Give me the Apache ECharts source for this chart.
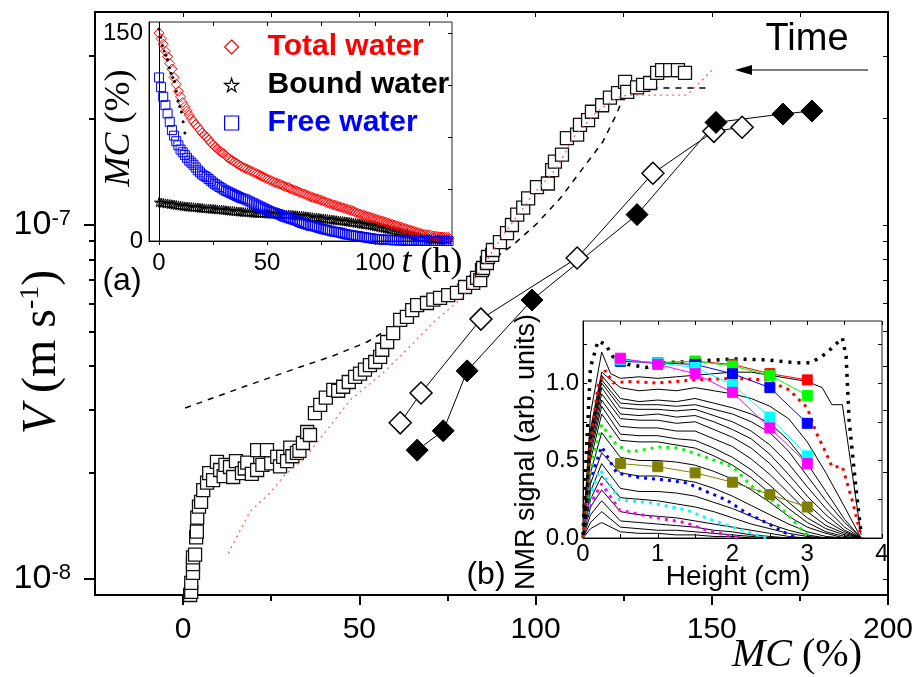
<!DOCTYPE html>
<html><head><meta charset="utf-8">
<script src="https://cdn.jsdelivr.net/npm/echarts@6/dist/echarts.min.js"></script>
<style>html,body{margin:0;padding:0;background:#fff}#c{width:919px;height:677px}</style>
</head><body><div id="c"></div>
<script>
// ---------- Main chart data (MC %, V m/s) ----------
const squares = [[2.0,9.0e-9],[2.3,9.19e-9],[2.3,9.74e-9],[2.8,1.04e-8],[2.8,1.10e-8],[2.8,1.15e-8],[3.4,1.17e-8],[3.7,1.31e-8],[3.9,1.36e-8],[4.0,1.49e-8],[4.5,1.60e-8],[5.1,1.65e-8],[5.7,1.78e-8],[6.8,1.87e-8],[7.4,1.99e-8],[8.5,1.90e-8],[9.6,2.14e-8],[10.5,2.03e-8],[11.5,1.95e-8],[12.0,2.10e-8],[13.3,2.07e-8],[14.2,1.94e-8],[15.0,2.15e-8],[16.7,1.99e-8],[17.5,2.05e-8],[18.2,2.13e-8],[19.5,1.98e-8],[21.0,2.03e-8],[21.0,2.31e-8],[22.5,2.10e-8],[23.8,2.31e-8],[25.0,2.12e-8],[26.7,2.21e-8],[27.5,2.08e-8],[28.4,2.21e-8],[29.5,2.15e-8],[30.4,2.35e-8],[31.0,2.22e-8],[32.3,2.27e-8],[33.0,2.30e-8],[34.0,2.42e-8],[35.2,2.60e-8],[36.0,2.55e-8],[37.4,2.94e-8],[38.9,3.10e-8],[40.5,3.25e-8],[42.6,3.42e-8],[44.0,3.40e-8],[45.4,3.49e-8],[47.0,3.60e-8],[48.8,3.72e-8],[50.2,3.80e-8],[51.6,3.90e-8],[53.0,4.02e-8],[54.5,4.10e-8],[55.9,4.24e-8],[56.5,4.44e-8],[57.9,4.67e-8],[59.6,4.95e-8],[61.6,5.39e-8],[63.5,5.50e-8],[65.0,5.75e-8],[66.4,5.94e-8],[69.2,6.02e-8],[71.0,6.15e-8],[72.9,6.22e-8],[75.2,6.34e-8],[77.7,6.43e-8],[80.0,6.68e-8],[82.3,6.86e-8],[83.4,7.09e-8],[84.3,6.99e-8],[84.8,7.46e-8],[85.1,7.56e-8],[86.2,7.81e-8],[86.5,8.12e-8],[87.7,8.23e-8],[87.9,8.50e-8],[89.9,8.95e-8],[91.9,9.49e-8],[93.3,1.00e-7],[94.8,1.07e-7],[96.5,1.12e-7],[97.9,1.19e-7],[100.4,1.28e-7],[103.5,1.31e-7],[104.7,1.43e-7],[105.5,1.51e-7],[107.5,1.58e-7],[108.9,1.76e-7],[111.8,1.80e-7],[112.6,1.92e-7],[114.9,1.98e-7],[116.0,2.09e-7],[118.9,2.18e-7],[121.1,2.29e-7],[123.4,2.36e-7],[125.4,2.54e-7],[126.0,2.38e-7],[128.8,2.45e-7],[130.5,2.49e-7],[132.5,2.52e-7],[134.5,2.69e-7],[135.9,2.74e-7],[138.2,2.74e-7],[140.4,2.74e-7],[142.4,2.69e-7]];
const dashedModel = [[0.6,3.04e-8],[16.2,3.46e-8],[33.2,3.97e-8],[42.6,4.27e-8],[52.2,4.67e-8],[58.7,5.12e-8],[75.7,6.55e-8],[85.7,7.71e-8],[93.6,8.78e-8],[100.4,1.01e-7],[107.0,1.19e-7],[113.5,1.45e-7],[119.1,1.72e-7],[123.1,2.07e-7],[124.8,2.29e-7],[126.8,2.44e-7],[149.5,2.44e-7]];
const redFit = [[12.8,1.18e-8],[19.0,1.55e-8],[24.7,1.75e-8],[28.9,1.97e-8],[34.0,2.17e-8],[39.7,2.55e-8],[47.4,3.20e-8],[56.7,3.82e-8],[63.5,4.44e-8],[70.9,5.29e-8],[79.4,6.26e-8],[90.8,9.37e-8],[99.3,1.22e-7],[106.1,1.45e-7],[110.6,1.76e-7],[117.4,2.09e-7],[123.1,2.29e-7],[126.0,2.33e-7],[143.0,2.33e-7],[150.1,2.74e-7]];
const openDiamonds = [[61.6,2.76e-8],[67.5,3.35e-8],[84.5,5.42e-8],[111.8,8.07e-8],[133.3,1.40e-7],[150.6,1.84e-7],[158.6,1.89e-7]];
const filledDiamonds = [[66.4,2.31e-8],[73.8,2.62e-8],[80.6,3.87e-8],[99.0,6.14e-8],[128.8,1.07e-7],[151.2,1.95e-7],[170.2,2.06e-7],[178.4,2.10e-7]];
const mainXMajor = [0,50,100,150,200];
const mainXMinor = [25,75,125,175];
const mainXTop = [0,25,50,75,100,125,150,175];
const mainYMajor = [1e-8,1e-7];
const mainYMinor = [2e-8,3e-8,4e-8,5e-8,6e-8,7e-8,8e-8,9e-8,2e-7,3e-7];
const mainYRight = [1e-8,2e-8,3e-8,4e-8,5e-8,6e-8,7e-8,8e-8,9e-8,1e-7,2e-7,3e-7];

// ---------- Inset (a): MC (%) vs t (h) ----------
const tHours = [0,2,4,6,8,10,12,14,16,18,20,22,24,26,28,30,32,34,36,38,40,42,44,46,48,50,52,54,56,58,60,62,64,66,68,70,72,74,76,78,80,82,84,86,88,90,92,94,96,98,100,102,104,106,108,110,112,114,116,118,120,122,124,126,128,130,132,134];
const totalWater = [150,142,133,124,113,104,97,91,86,82,78,75,71,68,65,63,60,58,56,54,52.5,51,49.5,48,46.5,45,43.5,42,41,39.5,38.5,37,36,34.5,33.5,32,31,30,29,27.5,26.5,25.5,24.5,23.5,22.5,21.5,20,19,18,17,16,15,14,13,12,11,10,9,8,7,6,5,4.5,4,3.5,3,2.8,2.5];
const boundWater = [28,27.5,27,26.5,26,25.5,25,24.7,24.4,24.1,23.8,23.5,23.2,23,22.7,22.4,22,21.7,21.4,21.1,20.8,20.5,20.3,20.1,20,19.8,19.6,19.5,19.3,19.1,19,18.8,18.5,18.2,17.8,17.4,17,16.6,16.2,15.8,15.4,15,14.6,14.2,13.8,13.3,12.8,12.3,11.8,11.2,10.6,10,9.3,8.6,7.8,7,6.2,5.4,4.6,3.8,3,2.4,1.9,1.5,1.2,1,1,1];
const freeWater = [118,104,92,80,72,66,62,58,55,51,48,46,43.5,41,39,37,35.5,34,32.5,31,30,28.5,27,25.5,24,22.5,21,20,19,17.5,16.5,15.5,14.5,13,12,11,10.5,9.5,8.5,8,7,6.5,6,5,4.5,4,3.5,3,2.5,2,1.5,1.2,1,0.8,0.6,0.5,0.4,0.3,0.2,0.2,0.1,0.1,0.1,0,0,0,0,0];
const tHoursOdd = [1,3,5,7,9,11,13,15,17,19,21,23,25,27,29,31,33,35,37,39,41,43,45,47,49,51,53,55,57,59,61,63,65,67,69,71,73,75,77,79,81,83,85,87,89,91,93,95,97,99,101,103,105,107,109,111,113,115,117,119,121,123,125,127,129,131,133];
const totalWaterOdd = [146,137,128,118,108,100,94,88,84,80,76.5,73,69.5,66.5,64,61.5,59,57,55,53,51.7,50.2,48.7,47.2,45.7,44.2,42.7,41.5,40.2,39,37.7,36.5,35.2,34,32.7,31.5,30.5,29.5,28.2,27,26,25,24,23,22,20.7,19.5,18.5,17.5,16.5,15.5,14.5,13.5,12.5,11.5,10.5,9.5,8.5,7.5,6.5,5.5,4.7,4.2,3.7,3.2,2.9,2.6];
const boundWaterOdd = [27.7,27.2,26.7,26.2,25.7,25.2,24.8,24.5,24.2,23.9,23.6,23.3,23.1,22.8,22.5,22.2,21.8,21.5,21.2,20.9,20.6,20.4,20.2,20,19.9,19.7,19.5,19.4,19.2,19,18.9,18.6,18.3,18,17.6,17.2,16.8,16.4,16,15.6,15.2,14.8,14.4,14,13.5,13,12.5,12,11.5,10.9,10.3,9.6,8.9,8.2,7.4,6.6,5.8,5,4.2,3.4,2.7,2.1,1.7,1.3,1.1,1,1];
const freeWaterOdd = [111,98,86,76,69,64,60,56.5,53,49.5,47,44.7,42.2,40,38,36.2,34.7,33.2,31.7,30.5,29.2,27.7,26.2,24.7,23.2,21.7,20.5,19.5,18.2,17,16,15,13.7,12.5,11.5,10.7,10,9,8.2,7.5,6.7,6.2,5.5,4.7,4.2,3.7,3.2,2.7,2.2,1.7,1.3,1.1,0.9,0.7,0.5,0.4,0.3,0.2,0.2,0.1,0.1,0.1,0,0,0,0,0];
const earlyDotT = [0,0.8,1.6,2.4,3.2,4,4.8,5.6,6.4,7.2,8,8.8,9.6,10.4,11.2,12];
const earlyDotMC = [153,147,141,137,134,131,125,121,118,115,108,101,97,93,86,78];
const insetAXLabels = [0,50,100];
const insetAXTicks = [0,25,50,75,100,125];
const insetAYLabels = [0,150];
const insetAYRight = [37.5,75,112.5,150];

// ---------- Inset (b): NMR signal vs Height (cm) ----------
const heights = [0,0.1,0.25,0.5,0.75,1,1.25,1.5,1.75,2,2.25,2.5,2.75,3,3.25,3.5,3.72];
const topProfile = [[0,0],[0.1,0.8],[0.25,1.2],[0.37,1.06],[0.5,1.03],[0.75,1.04],[1.0,1.03],[1.25,1.04],[1.5,1.05],[1.75,1.06],[2.0,1.07],[2.25,1.07],[2.5,1.05],[2.75,1.03],[3.0,1.01],[3.2,0.97],[3.33,0.86],[3.47,0.86],[3.72,0.02]];
const blackProfiles = [
 [0,0.70,1.07,0.97,0.95,0.96,0.95,0.97,0.95,0.93,0.90,0.85,0.77,0.62,0.42,0.20,0],
 [0,0.68,1.05,0.90,0.88,0.89,0.88,0.90,0.87,0.84,0.80,0.74,0.63,0.48,0.30,0.12,0],
 [0,0.66,1.02,0.87,0.86,0.86,0.85,0.86,0.83,0.80,0.75,0.68,0.56,0.40,0.24,0.10,0],
 [0,0.64,1.00,0.84,0.83,0.83,0.82,0.83,0.79,0.75,0.69,0.60,0.48,0.33,0.19,0.07,0],
 [0,0.62,0.97,0.80,0.79,0.80,0.78,0.79,0.75,0.70,0.64,0.54,0.41,0.27,0.15,0.05,0],
 [0,0.60,0.93,0.77,0.76,0.76,0.74,0.75,0.70,0.65,0.58,0.48,0.35,0.22,0.11,0.04,0],
 [0,0.57,0.89,0.72,0.71,0.71,0.69,0.69,0.64,0.59,0.51,0.41,0.29,0.17,0.08,0.03,0],
 [0,0.54,0.85,0.67,0.66,0.66,0.64,0.63,0.58,0.52,0.44,0.34,0.23,0.13,0.06,0.02,0],
 [0,0.50,0.80,0.63,0.62,0.62,0.60,0.58,0.53,0.47,0.39,0.29,0.19,0.10,0.04,0.01,0],
 [0,0.42,0.68,0.52,0.50,0.50,0.49,0.47,0.43,0.38,0.31,0.23,0.14,0.07,0.03,0,0],
 [0,0.35,0.55,0.42,0.40,0.40,0.38,0.36,0.32,0.27,0.21,0.15,0.09,0.04,0.01,0,0],
 [0,0.30,0.48,0.32,0.30,0.30,0.29,0.27,0.23,0.19,0.14,0.09,0.05,0.02,0,0,0],
 [0,0.25,0.40,0.26,0.25,0.24,0.22,0.20,0.17,0.13,0.09,0.06,0.03,0.01,0,0,0],
 [0,0.20,0.31,0.17,0.15,0.14,0.13,0.11,0.09,0.07,0.05,0.03,0.01,0,0,0,0],
 [0,0.15,0.24,0.11,0.10,0.09,0.08,0.07,0.05,0.04,0.02,0.01,0,0,0,0,0],
 [0,0.10,0.17,0.07,0.06,0.05,0.05,0.04,0.03,0.02,0.01,0,0,0,0,0,0],
 [0,0.06,0.10,0.04,0.03,0.03,0.02,0.02,0.01,0.01,0,0,0,0,0,0,0]
];
const blackDotted = [[0,0.02],[0.05,0.6],[0.1,1.1],[0.2,1.27],[0.3,1.25],[0.4,1.17],[0.6,1.12],[0.85,1.10],[1.1,1.13],[1.5,1.14],[2.0,1.155],[2.45,1.15],[2.85,1.13],[3.05,1.13],[3.25,1.19],[3.47,1.29],[3.52,1.17],[3.56,0.76],[3.65,0.33],[3.72,0.03]];
const redDotted = [[0,0],[0.1,0.6],[0.2,0.98],[0.3,1.08],[0.4,1.0],[0.6,1.01],[1.0,1.0],[1.5,1.02],[2.0,1.03],[2.45,1.02],[2.76,0.955],[3.0,0.84],[3.12,0.68],[3.25,0.55],[3.33,0.46],[3.47,0.46],[3.6,0.245],[3.69,0.07],[3.73,0]];
const greenDotted = [[0,0],[0.1,0.45],[0.25,0.73],[0.45,0.6],[0.63,0.555],[1.03,0.587],[1.29,0.58],[1.65,0.52],[2.0,0.46],[2.27,0.33],[2.53,0.245],[2.72,0.16],[2.93,0.05],[3.05,0]];
const blueDotted = [[0,0],[0.1,0.38],[0.25,0.59],[0.45,0.42],[0.76,0.39],[1.12,0.374],[1.39,0.355],[1.65,0.3],[1.92,0.245],[2.19,0.16],[2.45,0.1],[2.72,0.03],[2.85,0]];
const cyanDotted = [[0,0],[0.1,0.28],[0.23,0.44],[0.49,0.245],[0.93,0.225],[1.39,0.18],[1.65,0.13],[2.0,0.07],[2.27,0.03],[2.45,0]];
const magentaDotted = [[0,0],[0.1,0.22],[0.25,0.35],[0.49,0.18],[0.93,0.135],[1.39,0.097],[1.65,0.05],[1.92,0.02],[2.1,0]];
const squareHeights = [0.5,1,1.5,2,2.5,3];
const redSq = [1.15,1.13,1.14,1.12,1.06,1.02];
const greenSq = [1.15,1.13,1.14,1.11,1.05,0.92];
const blueSq = [1.14,1.13,1.12,1.06,0.97,0.74];
const cyanSq = [1.15,1.13,1.10,0.99,0.78,0.53];
const magentaSq = [1.16,1.12,1.06,0.94,0.71,0.48];
const oliveSq = [0.48,0.46,0.42,0.36,0.28,0.20];
const insetBXLabels = [0,1,2,3,4];
const insetBXTicks = [0,0.5,1,1.5,2,2.5,3,3.5,4];
const insetBYLabels = [0,0.5,1.0];
const insetBYTicks = [0,0.25,0.5,0.75,1.0,1.25];

// ---------- build ----------
const SANS = 'Liberation Sans', SERIF = 'Liberation Serif';
const chart = echarts.init(document.getElementById('c'), null, {renderer: 'canvas'});
const noSplit = {show: false};
function ax(o) {
  return Object.assign({type: 'value', splitLine: noSplit, minorTick: {show: false}, minorSplitLine: {show: false}}, o);
}
const pair = (xs, ys) => xs.map((x, i) => [x, ys[i]]);
const open = c => ({color: 'rgba(255,255,255,0)', borderColor: c, borderWidth: 1, opacity: 1});
const starPath = 'path://M50,0 L61,35 L98,35 L68,57 L79,91 L50,70 L21,91 L32,57 L2,35 L39,35 Z';

const xAxis = [
  ax({gridIndex: 0, min: -25, max: 200, position: 'bottom',
      axisLine: {show: true, onZero: false, lineStyle: {color: '#000', width: 2}},
      axisTick: {show: true, length: 10, customValues: mainXMajor, lineStyle: {color: '#000', width: 2}},
      axisLabel: {show: true, customValues: mainXMajor, margin: 20, color: '#000', fontSize: 30, fontFamily: SANS}}),
  ax({gridIndex: 0, min: -25, max: 200, position: 'bottom',
      axisLine: {show: false, onZero: false},
      axisTick: {show: true, length: 6, customValues: mainXMinor, lineStyle: {color: '#000', width: 2}},
      axisLabel: {show: false}}),
  ax({gridIndex: 0, min: -25, max: 200, position: 'top',
      axisLine: {show: false, onZero: false},
      axisTick: {show: true, inside: true, length: 5, customValues: mainXTop, lineStyle: {color: '#000', width: 1}},
      axisLabel: {show: false}}),
  ax({gridIndex: 1, min: -4.6, max: 135.6, position: 'bottom',
      axisLine: {show: true, onZero: false, lineStyle: {color: '#000', width: 1}},
      axisTick: {show: true, length: 4, customValues: insetAXTicks, lineStyle: {color: '#000', width: 1}},
      axisLabel: {show: true, customValues: insetAXLabels, margin: 10, color: '#000', fontSize: 24, fontFamily: SANS}}),
  ax({gridIndex: 1, min: -4.6, max: 135.6, position: 'top',
      axisLine: {show: false, onZero: false},
      axisTick: {show: true, inside: true, length: 4, customValues: insetAXTicks, lineStyle: {color: '#000', width: 1}},
      axisLabel: {show: false}}),
  ax({gridIndex: 2, min: 0, max: 4, position: 'bottom',
      axisLine: {show: true, onZero: false, lineStyle: {color: '#000', width: 1}},
      axisTick: {show: true, inside: true, length: 4, customValues: insetBXTicks, lineStyle: {color: '#000', width: 1}},
      axisLabel: {show: true, customValues: insetBXLabels, margin: 4, color: '#000', fontSize: 24, fontFamily: SANS}}),
  ax({gridIndex: 2, min: 0, max: 4, position: 'top',
      axisLine: {show: false, onZero: false},
      axisTick: {show: true, inside: true, length: 4, customValues: insetBXTicks, lineStyle: {color: '#000', width: 1}},
      axisLabel: {show: false}})
];
const yAxis = [
  ax({gridIndex: 0, type: 'log', logBase: 10, min: 9e-9, max: 4e-7, position: 'left',
      axisLine: {show: true, onZero: false, lineStyle: {color: '#000', width: 2}},
      axisTick: {show: true, length: 11, customValues: mainYMajor, lineStyle: {color: '#000', width: 2}},
      axisLabel: {show: true, customValues: mainYMajor, margin: 24, color: '#000',
        formatter: v => '{b|10}{s|' + Math.round(Math.log10(v)) + '}',
        rich: {b: {fontSize: 34, fontFamily: SANS, color: '#000', lineHeight: 34},
               s: {fontSize: 22, fontFamily: SANS, color: '#000', lineHeight: 22, verticalAlign: 'top'}}}}),
  ax({gridIndex: 0, type: 'log', logBase: 10, min: 9e-9, max: 4e-7, position: 'left',
      axisLine: {show: false, onZero: false},
      axisTick: {show: true, length: 6, customValues: mainYMinor, lineStyle: {color: '#000', width: 2}},
      axisLabel: {show: false}}),
  ax({gridIndex: 0, type: 'log', logBase: 10, min: 9e-9, max: 4e-7, position: 'right',
      axisLine: {show: false, onZero: false},
      axisTick: {show: true, inside: true, length: 5, customValues: mainYRight, lineStyle: {color: '#000', width: 1}},
      axisLabel: {show: false}}),
  ax({gridIndex: 1, min: 0, max: 158, position: 'left',
      axisLine: {show: true, onZero: false, lineStyle: {color: '#000', width: 1}},
      axisTick: {show: false},
      axisLabel: {show: true, customValues: insetAYLabels, margin: 6, color: '#000', fontSize: 24, fontFamily: SANS}}),
  ax({gridIndex: 1, min: 0, max: 158, position: 'right',
      axisLine: {show: false, onZero: false},
      axisTick: {show: true, inside: true, length: 4, customValues: insetAYRight, lineStyle: {color: '#000', width: 1}},
      axisLabel: {show: false}}),
  ax({gridIndex: 2, min: 0, max: 1.4, position: 'left',
      axisLine: {show: true, onZero: false, lineStyle: {color: '#000', width: 1}},
      axisTick: {show: true, inside: true, length: 4, customValues: insetBYTicks, lineStyle: {color: '#000', width: 1}},
      axisLabel: {show: true, customValues: insetBYLabels, margin: 4, color: '#000', fontSize: 24, fontFamily: SANS,
        formatter: v => v.toFixed(1)}}),
  ax({gridIndex: 2, min: 0, max: 1.4, position: 'right',
      axisLine: {show: false, onZero: false},
      axisTick: {show: true, inside: true, length: 4, customValues: insetBYTicks, lineStyle: {color: '#000', width: 1}},
      axisLabel: {show: false}})
];

const series = [];
series.push({type: 'line', name: 'model', xAxisIndex: 0, yAxisIndex: 0, data: dashedModel, showSymbol: false, symbol: 'none',
  lineStyle: {color: '#000', width: 1.5, type: [6, 6]}, z: 2});
series.push({type: 'scatter', name: 'V', xAxisIndex: 0, yAxisIndex: 0, data: squares, symbol: 'rect', symbolSize: 13,
  itemStyle: {color: '#fff', borderColor: '#111', borderWidth: 1.3, opacity: 1}, z: 3, clip: false});
series.push({type: 'line', name: 'fit', xAxisIndex: 0, yAxisIndex: 0, data: redFit, showSymbol: false, symbol: 'none',
  lineStyle: {color: '#ff6060', width: 1.3, type: [2, 4]}, z: 4});
series.push({type: 'line', name: 'open', xAxisIndex: 0, yAxisIndex: 0, data: openDiamonds, symbol: 'diamond', symbolSize: 22, showSymbol: true,
  lineStyle: {color: '#000', width: 1}, itemStyle: {color: '#fff', borderColor: '#000', borderWidth: 1.5}, z: 5});
series.push({type: 'line', name: 'filled', xAxisIndex: 0, yAxisIndex: 0, data: filledDiamonds, symbol: 'diamond', symbolSize: 22, showSymbol: true,
  lineStyle: {color: '#000', width: 1}, itemStyle: {color: '#000', borderColor: '#000', borderWidth: 1}, z: 5});
series.push({type: 'scatter', name: 'Bound water', xAxisIndex: 3, yAxisIndex: 3,
  data: pair(tHours, boundWater).concat(pair(tHoursOdd, boundWaterOdd)), symbol: starPath, symbolSize: 9,
  itemStyle: open('#000'), z: 6});
series.push({type: 'scatter', name: 'Total water', xAxisIndex: 3, yAxisIndex: 3,
  data: pair(tHours, totalWater).concat(pair(tHoursOdd, totalWaterOdd)), symbol: 'diamond', symbolSize: 10,
  itemStyle: open('#ff0000'), z: 6,
  markLine: {silent: true, symbol: ['none', 'none'], label: {show: false}, animation: false,
    lineStyle: {color: '#000', width: 1, type: 'solid'}, data: [{xAxis: 0}]}});
series.push({type: 'scatter', name: 'Free water', xAxisIndex: 3, yAxisIndex: 3,
  data: pair(tHours, freeWater).concat(pair(tHoursOdd, freeWaterOdd)), symbol: 'rect', symbolSize: 9,
  itemStyle: open('#0000ff'), z: 6});
series.push({type: 'scatter', name: 'early', xAxisIndex: 3, yAxisIndex: 3, data: pair(earlyDotT, earlyDotMC), symbol: 'circle', symbolSize: 3,
  itemStyle: {color: '#000', opacity: 1}, z: 7});
const bLine = (data, color, width, type, z) => ({type: 'line', xAxisIndex: 5, yAxisIndex: 5, data, showSymbol: false, symbol: 'none',
  lineStyle: {color, width, type}, z: z || 6});
series.push(bLine(topProfile, '#000', 1, 'solid'));
blackProfiles.forEach(p => series.push(bLine(pair(heights, p), '#000', 1, 'solid')));
series.push(bLine(magentaDotted, '#ff00ff', 3, [3, 5], 7));
series.push(bLine(cyanDotted, '#00ffff', 3, [3, 5], 7));
series.push(bLine(blueDotted, '#0000ff', 3, [3, 5], 7));
series.push(bLine(greenDotted, '#00ff00', 3, [3, 5], 7));
series.push(bLine(redDotted, '#ff0000', 3, [3, 5], 7));
series.push(bLine(blackDotted, '#000', 3.5, [3, 6], 7));
const sqLine = (vals, color) => ({type: 'line', xAxisIndex: 5, yAxisIndex: 5, data: pair(squareHeights, vals), symbol: 'rect', symbolSize: 10,
  showSymbol: true, lineStyle: {color, width: 1}, itemStyle: {color, borderColor: color, borderWidth: 1}, z: 8});
series.push(sqLine(oliveSq, '#808000'));
series.push(sqLine(redSq, '#ff0000'));
series.push(sqLine(greenSq, '#00ff00'));
series.push(sqLine(blueSq, '#0000ff'));
series.push(sqLine(cyanSq, '#00ffff'));
series.push(sqLine(magentaSq, '#ff00ff'));

const txt = (o) => Object.assign({type: 'text', z: 100, silent: true}, o);
const C = {align: 'center', verticalAlign: 'middle', textAlign: 'center', textVerticalAlign: 'middle', fill: '#000'};
const graphic = [
  txt({x: 807, y: 40, style: Object.assign({text: 'Time', fontSize: 38, fontFamily: SANS}, C)}),
  {type: 'line', z: 100, silent: true, shape: {x1: 868, y1: 70, x2: 748, y2: 70}, style: {stroke: '#000', lineWidth: 1.2}},
  {type: 'polygon', z: 100, silent: true, shape: {points: [[735, 70], [752, 65], [752, 75]]}, style: {fill: '#000'}},
  txt({x: 122, y: 281, style: Object.assign({text: '(a)', fontSize: 32, fontFamily: SANS}, C)}),
  txt({x: 486, y: 575, style: Object.assign({text: '(b)', fontSize: 32, fontFamily: SANS}, C)}),
  txt({x: 42, y: 352, rotation: Math.PI / 2, style: Object.assign({text: '{i|V}{n| (m s}{s|-1}{n|)}',
    rich: {i: {fontSize: 48, fontFamily: SERIF, fontStyle: 'italic', fill: '#000', lineHeight: 50},
           n: {fontSize: 48, fontFamily: SERIF, fill: '#000', lineHeight: 50},
           s: {fontSize: 28, fontFamily: SERIF, fill: '#000', lineHeight: 26, verticalAlign: 'top'}}}, C)}),
  txt({x: 797, y: 655, style: Object.assign({text: '{i|MC}{n| (%)}',
    rich: {i: {fontSize: 40, fontFamily: SERIF, fontStyle: 'italic', fill: '#000'}, n: {fontSize: 40, fontFamily: SERIF, fill: '#000'}}}, C)}),
  txt({x: 120, y: 128, rotation: Math.PI / 2, style: Object.assign({text: '{i|MC}{n| (%)}',
    rich: {i: {fontSize: 36, fontFamily: SERIF, fontStyle: 'italic', fill: '#000'}, n: {fontSize: 36, fontFamily: SERIF, fill: '#000'}}}, C)}),
  txt({x: 432, y: 263, style: Object.assign({text: '{i|t}{n| (h)}',
    rich: {i: {fontSize: 36, fontFamily: SERIF, fontStyle: 'italic', fill: '#000'}, n: {fontSize: 36, fontFamily: SERIF, fill: '#000'}}}, C)}),
  txt({x: 738, y: 577, style: Object.assign({text: 'Height (cm)', fontSize: 28, fontFamily: SANS}, C)}),
  txt({x: 527, y: 452, rotation: Math.PI / 2, style: Object.assign({text: 'NMR signal (arb. units)', fontSize: 27, fontFamily: SANS}, C)})
];

chart.setOption({
  animation: false,
  backgroundColor: '#fff',
  grid: [
    {left: 95, top: 12, width: 793, height: 583, show: true, backgroundColor: '#fff', borderColor: '#000', borderWidth: 2, containLabel: false},
    {left: 149, top: 22, width: 303, height: 219, show: true, backgroundColor: '#fff', borderColor: '#222', borderWidth: 1, containLabel: false},
    {left: 583, top: 321, width: 299, height: 217, show: true, backgroundColor: '#fff', borderColor: '#222', borderWidth: 1, containLabel: false}
  ],
  xAxis, yAxis, series, graphic,
  legend: {
    data: [
      {name: 'Total water', textStyle: {color: '#ff0000'}, itemStyle: {color: 'rgba(255,255,255,0)', borderColor: '#ff0000', borderWidth: 1.2}},
      {name: 'Bound water', textStyle: {color: '#000'}, itemStyle: {color: 'rgba(255,255,255,0)', borderColor: '#000', borderWidth: 1.2}},
      {name: 'Free water', textStyle: {color: '#0000ff'}, itemStyle: {color: 'rgba(255,255,255,0)', borderColor: '#0000ff', borderWidth: 1.2}}
    ],
    orient: 'vertical', left: 219, top: 27, itemWidth: 14, itemHeight: 14, itemGap: 8, selectedMode: false,
    textStyle: {fontSize: 30, fontWeight: 'bold', fontFamily: SANS, padding: [0, 0, 0, 24]}
  }
});
</script></body></html>
